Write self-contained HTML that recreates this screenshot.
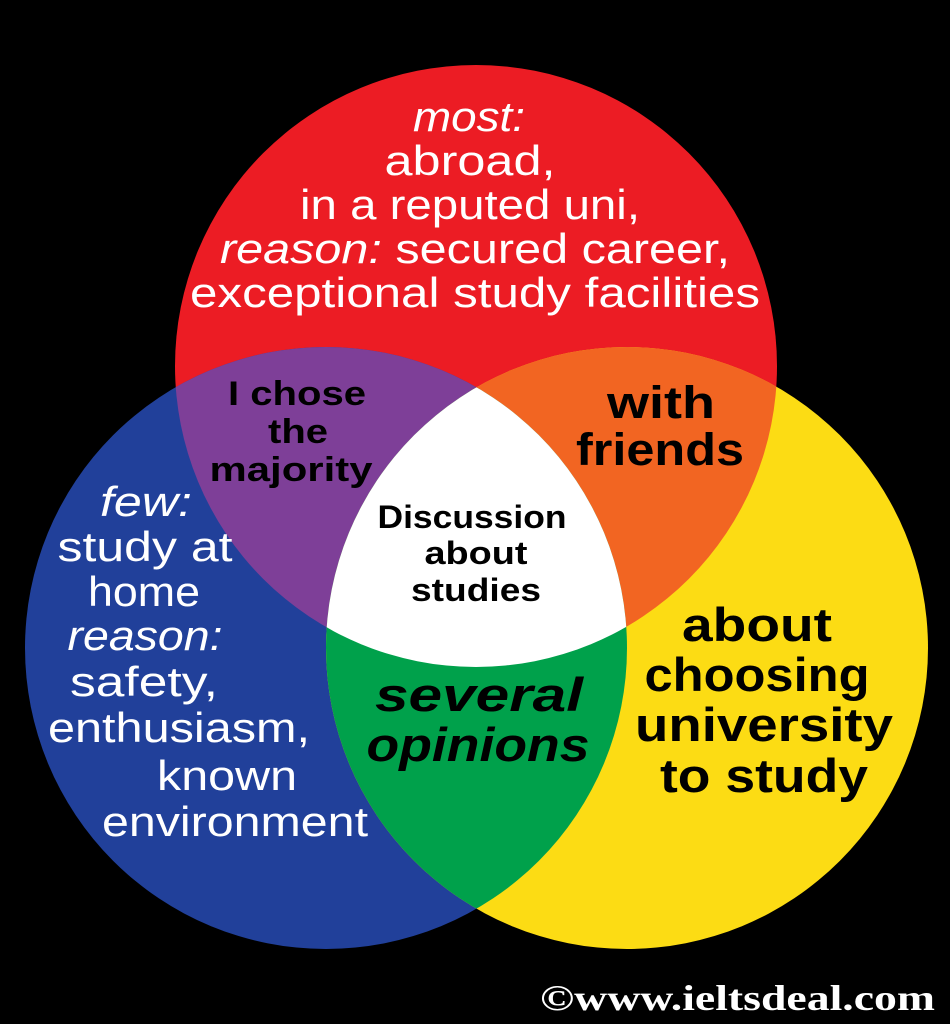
<!DOCTYPE html>
<html><head><meta charset="utf-8"><style>
html,body{margin:0;padding:0;background:#000;}
svg{display:block}
text{font-family:"Liberation Sans",sans-serif;}
.w{fill:#fff;font-size:42px;text-anchor:middle}
.b{fill:#000;font-weight:bold;text-anchor:middle}
</style></head><body>
<svg width="950" height="1024" viewBox="0 0 950 1024">
<defs>
<clipPath id="cr"><circle cx="476" cy="366" r="301"/></clipPath>
<clipPath id="cb"><circle cx="326" cy="648" r="301"/></clipPath>
</defs>
<rect width="950" height="1024" fill="#000"/>
<circle cx="476" cy="366" r="301" fill="#ec1c24"/>
<circle cx="326" cy="648" r="301" fill="#21409a"/>
<circle cx="627" cy="648" r="301" fill="#fcdc14"/>
<circle cx="326" cy="648" r="301" fill="#7e3f98" clip-path="url(#cr)"/>
<circle cx="627" cy="648" r="301" fill="#f26522" clip-path="url(#cr)"/>
<circle cx="627" cy="648" r="301" fill="#00a14b" clip-path="url(#cb)"/>
<g clip-path="url(#cr)"><circle cx="627" cy="648" r="301" fill="#fff" clip-path="url(#cb)"/></g>
<g>
<text class="w" x="469" y="131" font-style="italic" textLength="112" lengthAdjust="spacingAndGlyphs">most:</text>
<text class="w" x="470" y="175" textLength="171" lengthAdjust="spacingAndGlyphs">abroad,</text>
<text class="w" x="470" y="219" textLength="340" lengthAdjust="spacingAndGlyphs">in a reputed uni,</text>
<text class="w" x="475" y="263" textLength="510" lengthAdjust="spacingAndGlyphs"><tspan font-style="italic">reason:</tspan> secured career,</text>
<text class="w" x="475" y="307" textLength="570" lengthAdjust="spacingAndGlyphs">exceptional study facilities</text>

<text class="b" x="297" y="405" font-size="34" textLength="138" lengthAdjust="spacingAndGlyphs">I chose</text>
<text class="b" x="298" y="443" font-size="34" textLength="60" lengthAdjust="spacingAndGlyphs">the</text>
<text class="b" x="291" y="481" font-size="34" textLength="163" lengthAdjust="spacingAndGlyphs">majority</text>

<text class="b" x="661" y="418" font-size="45" textLength="108" lengthAdjust="spacingAndGlyphs">with</text>
<text class="b" x="660" y="465" font-size="45" textLength="168" lengthAdjust="spacingAndGlyphs">friends</text>

<text class="b" x="472" y="528" font-size="32" textLength="189" lengthAdjust="spacingAndGlyphs">Discussion</text>
<text class="b" x="476" y="564" font-size="32" textLength="103" lengthAdjust="spacingAndGlyphs">about</text>
<text class="b" x="476" y="601" font-size="32" textLength="130" lengthAdjust="spacingAndGlyphs">studies</text>

<text class="w" x="146" y="516" font-style="italic" textLength="92" lengthAdjust="spacingAndGlyphs">few:</text>
<text class="w" x="145" y="561" textLength="175" lengthAdjust="spacingAndGlyphs">study at</text>
<text class="w" x="144" y="606" textLength="112" lengthAdjust="spacingAndGlyphs">home</text>
<text class="w" x="145" y="650" font-style="italic" textLength="155" lengthAdjust="spacingAndGlyphs">reason:</text>
<text class="w" x="144" y="696" textLength="148" lengthAdjust="spacingAndGlyphs">safety,</text>
<text class="w" x="179" y="742" textLength="262" lengthAdjust="spacingAndGlyphs">enthusiasm,</text>
<text class="w" x="227" y="790" textLength="140" lengthAdjust="spacingAndGlyphs">known</text>
<text class="w" x="235" y="836" textLength="266" lengthAdjust="spacingAndGlyphs">environment</text>

<text class="b" x="479" y="711" font-size="47" font-style="italic" textLength="208" lengthAdjust="spacingAndGlyphs">several</text>
<text class="b" x="478" y="761" font-size="47" font-style="italic" textLength="223" lengthAdjust="spacingAndGlyphs">opinions</text>

<text class="b" x="757" y="641" font-size="47" textLength="150" lengthAdjust="spacingAndGlyphs">about</text>
<text class="b" x="757" y="691" font-size="47" textLength="225" lengthAdjust="spacingAndGlyphs">choosing</text>
<text class="b" x="764" y="741" font-size="47" textLength="258" lengthAdjust="spacingAndGlyphs">university</text>
<text class="b" x="764" y="792" font-size="47" textLength="208" lengthAdjust="spacingAndGlyphs">to study</text>

<text x="540" y="1010" fill="#fff" font-weight="bold" font-size="36" textLength="395" lengthAdjust="spacingAndGlyphs" style="font-family:'Liberation Serif',serif">©www.ieltsdeal.com</text>
</g>
</svg>
</body></html>
